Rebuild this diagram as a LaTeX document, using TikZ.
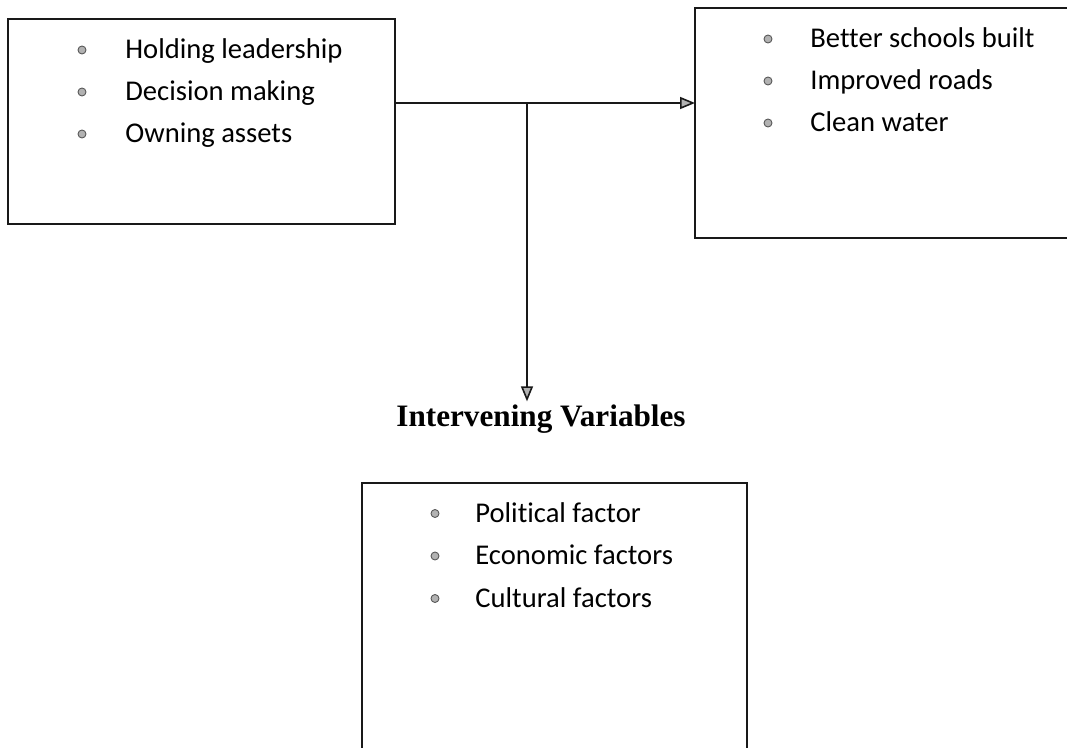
\documentclass[tikz,border=0pt]{standalone}
\usepackage{fontspec}
\setmainfont{Carlito}[Ligatures=NoCommon]
\newfontfamily\headfont{Liberation Serif}
\usetikzlibrary{arrows.meta}
\begin{document}
\begin{tikzpicture}[x=0.5pt,y=-0.5pt,
  box/.style={draw=black!90, line width=1pt, rectangle, inner sep=0pt, outer sep=0pt, anchor=north west},
  dot/.style={circle, fill=gray!60, draw=black!65, line width=0.45pt, minimum size=4pt, inner sep=0pt},
  item/.style={anchor=base west, inner sep=0pt, font=\fontsize{14.3}{17}\selectfont},
  head/.style={anchor=base, inner sep=0pt, outer sep=2pt, font=\headfont\bfseries\fontsize{15.6}{18}\selectfont},
  link/.style={draw=black!90, line width=0.8pt},
  arr/.style={link, -{Triangle[length=7.5pt, width=6pt, fill=gray!60]}}]
\useasboundingbox (0,0) rectangle (1067,748);
\begin{scope}
\clip (0,0) rectangle (1067,748);
% three frames
\node[box, minimum width=193.5pt, minimum height=102.5pt] (ind) at (8,19) {};
\node[box, minimum width=195pt, minimum height=115pt] (dep) at (695,8) {};
\node[box, minimum width=192.5pt, minimum height=145pt] (ivb) at (362,483) {};
\end{scope}

% bullet lists
\foreach \t [count=\i] in {Holding leadership, Decision making, Owning assets} {
  \node[dot] (ind-d\i) at (82, 8+42*\i) {};
  \node[item] (ind-t\i) at (125, 17+42*\i) {\t};
}
\foreach \t [count=\i] in {Better schools built, Improved roads, Clean water} {
  \node[dot] (dep-d\i) at (768, -3+42*\i) {};
  \node[item] (dep-t\i) at (810, 6+42*\i) {\t};
}
\foreach \t [count=\i] in {Political factor, Economic factors, Cultural factors} {
  \node[dot] (ivb-d\i) at (435, 471+42.5*\i) {};
  \node[item] (ivb-t\i) at (475, 480+42.5*\i) {\t};
}

% heading above the lower frame
\node[head] (ivlabel) at (541,427) {Intervening Variables};

% connectors
\coordinate (split) at (527,103);
\draw[link] (ind.east |- split) -- (split);
\draw[arr] (split) -- (dep.west |- split);
\draw[arr] (split) -- (split |- ivlabel.north);
\end{tikzpicture}
\end{document}
